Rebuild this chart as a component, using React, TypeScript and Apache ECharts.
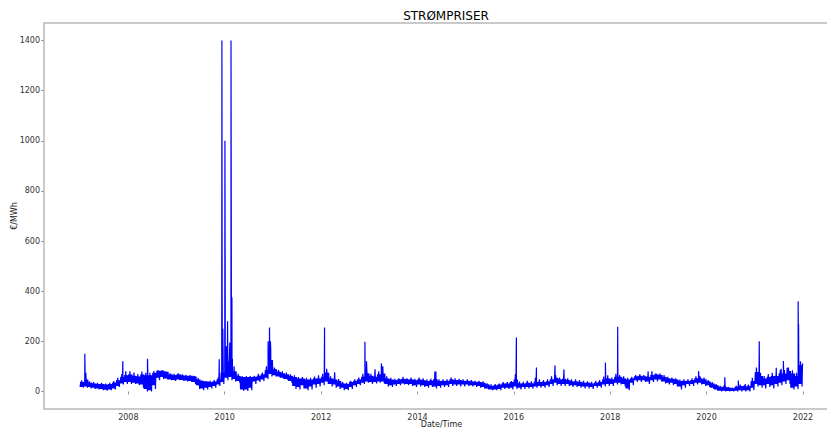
import React, { useEffect, useRef } from "react";
import * as echarts from "echarts";

// Monthly levels of the noisy price band (€/MWh):
// typical low, typical high, deepest dip and highest peak of each month
const YEARS = [2007, 2008, 2009, 2010, 2011, 2012, 2013, 2014, 2015, 2016, 2017, 2018, 2019, 2020, 2021];
const BAND_LO: number[][] = [
  [18, 20, 18, 15, 12, 10, 7, 8, 12, 22, 32, 38],
  [38, 35, 32, 28, 10, 5, 25, 55, 58, 52, 48, 46],
  [48, 46, 44, 42, 38, 25, 12, 15, 18, 22, 28, 38],
  [55, 58, 50, 42, 8, 8, 15, 40, 44, 48, 55, 70],
  [65, 60, 55, 50, 42, 22, 18, 25, 12, 20, 28, 30],
  [35, 40, 30, 28, 20, 15, 10, 18, 25, 30, 35, 40],
  [38, 38, 40, 40, 30, 25, 28, 30, 32, 30, 30, 25],
  [28, 25, 22, 25, 20, 22, 25, 25, 30, 28, 28, 28],
  [28, 25, 25, 22, 18, 12, 8, 8, 10, 15, 15, 15],
  [20, 15, 18, 18, 18, 20, 22, 22, 25, 30, 35, 30],
  [30, 30, 25, 25, 22, 20, 20, 18, 22, 22, 28, 30],
  [30, 35, 35, 30, 12, 35, 45, 45, 45, 40, 45, 48],
  [48, 40, 35, 35, 30, 20, 25, 30, 30, 35, 35, 30],
  [25, 15, 8, 3, 3, 2, 2, 3, 5, 5, 5, 15],
  [30, 25, 25, 30, 25, 30, 35, 40, 45, 15, 20, 30],
];
const BAND_HI: number[][] = [
  [38, 48, 35, 32, 30, 30, 28, 30, 36, 45, 58, 65],
  [68, 62, 60, 68, 65, 65, 75, 82, 82, 78, 68, 65],
  [68, 64, 62, 62, 60, 48, 42, 40, 38, 40, 48, 75],
  [120, 130, 80, 62, 58, 58, 58, 58, 62, 68, 85, 125],
  [88, 78, 72, 68, 62, 58, 52, 52, 48, 48, 52, 52],
  [58, 75, 52, 48, 42, 32, 30, 38, 42, 48, 58, 72],
  [62, 58, 68, 72, 52, 48, 45, 48, 50, 48, 48, 45],
  [48, 45, 42, 44, 50, 42, 42, 42, 48, 45, 45, 42],
  [42, 40, 38, 38, 35, 28, 22, 25, 28, 32, 32, 38],
  [48, 32, 32, 35, 32, 38, 38, 38, 40, 48, 55, 48],
  [50, 45, 40, 40, 38, 35, 35, 32, 35, 38, 48, 52],
  [48, 58, 58, 52, 48, 52, 60, 62, 60, 58, 65, 68],
  [65, 58, 52, 50, 48, 42, 42, 42, 45, 52, 52, 48],
  [40, 32, 25, 18, 18, 15, 12, 18, 22, 20, 22, 42],
  [78, 62, 52, 58, 62, 62, 72, 72, 82, 72, 62, 105],
];
const BAND_DIP: number[][] = [
  [15, 15, 12, 10, 8, 5, 3, 5, 8, 18, 28, 30],
  [30, 30, 25, 15, 0, 0, 10, 45, 50, 48, 45, 42],
  [45, 42, 40, 38, 30, 10, 5, 8, 12, 15, 22, 30],
  [45, 45, 40, 35, 2, 2, 5, 30, 38, 42, 50, 60],
  [60, 55, 50, 45, 35, 10, 8, 12, 5, 8, 15, 20],
  [25, 30, 20, 15, 10, 5, 5, 10, 18, 25, 30, 35],
  [30, 32, 35, 32, 20, 18, 22, 25, 28, 25, 22, 18],
  [20, 18, 15, 18, 12, 15, 18, 18, 22, 22, 20, 20],
  [22, 20, 18, 15, 12, 8, 5, 5, 5, 10, 10, 8],
  [10, 8, 10, 12, 12, 15, 15, 15, 18, 22, 25, 22],
  [22, 22, 18, 18, 15, 12, 12, 10, 15, 15, 20, 22],
  [22, 28, 28, 20, 5, 25, 38, 38, 38, 30, 38, 40],
  [40, 32, 28, 25, 20, 8, 15, 22, 22, 28, 28, 22],
  [18, 10, 3, 0, 0, 0, 0, 0, 0, 0, 0, 5],
  [20, 15, 12, 18, 12, 20, 25, 30, 30, 8, 10, 20],
];
const BAND_PEAK: number[][] = [
  [45, 75, 40, 38, 35, 35, 32, 35, 42, 55, 70, 80],
  [80, 75, 70, 80, 75, 75, 82, 85, 85, 80, 72, 70],
  [72, 68, 66, 65, 62, 55, 45, 42, 42, 45, 55, 130],
  [180, 190, 100, 70, 62, 62, 62, 62, 70, 75, 100, 200],
  [95, 85, 80, 75, 68, 65, 58, 58, 55, 55, 60, 65],
  [70, 90, 60, 77, 50, 38, 35, 42, 48, 55, 70, 120],
  [70, 88, 80, 100, 60, 55, 50, 52, 58, 52, 55, 50],
  [55, 52, 48, 50, 80, 48, 48, 48, 55, 52, 50, 48],
  [48, 45, 42, 42, 40, 32, 28, 30, 32, 38, 38, 42],
  [70, 40, 38, 42, 40, 55, 48, 45, 48, 60, 65, 55],
  [60, 52, 48, 48, 45, 42, 40, 38, 42, 45, 60, 65],
  [55, 70, 65, 60, 55, 58, 65, 68, 65, 62, 80, 72],
  [72, 65, 58, 55, 52, 48, 48, 48, 52, 60, 60, 55],
  [45, 38, 30, 22, 25, 18, 15, 22, 28, 25, 28, 55],
  [95, 75, 62, 70, 75, 75, 85, 85, 95, 85, 75, 120],
];

// Isolated price spikes [date, €/MWh]
const SPIKE_DATES = [
  "2007-02-05", "2007-11-20", "2008-05-25", "2009-11-20", "2009-12-10", "2009-12-17",
  "2010-01-02", "2010-01-04", "2010-01-22", "2010-02-08", "2010-02-17", "2010-02-24",
  "2010-11-25", "2010-12-06", "2010-12-15", "2012-01-27", "2012-04-15", "2012-11-28",
  "2012-12-10", "2013-02-15", "2013-04-02", "2014-05-20", "2016-01-20", "2016-06-20",
  "2016-11-08", "2017-01-15", "2017-11-25", "2018-02-26", "2018-10-15", "2019-11-01",
  "2020-05-18", "2020-08-28", "2020-10-20", "2021-02-03", "2021-06-12", "2021-07-18",
  "2021-08-05", "2021-09-02", "2021-11-25", "2021-11-28", "2021-12-29",
];
const SPIKE_VALUES = [
  150, 120, 130, 128, 1400, 250,
  1000, 400, 280, 195, 1400, 375,
  200, 255, 170, 255, 77, 198,
  120, 88, 112, 80, 215, 96,
  104, 88, 115, 258, 80, 81,
  57, 44, 30, 200, 95, 90,
  121, 95, 360, 270, 112,
];

const X_TICK_YEARS = [2008, 2010, 2012, 2014, 2016, 2018, 2020, 2022];
const Y_TICKS = [0, 200, 400, 600, 800, 1000, 1200, 1400];

const FONT = "DejaVu Sans";

export default function App() {
  const ref = useRef<HTMLDivElement>(null);

  useEffect(() => {
    if (!ref.current) return;
    const chart = echarts.init(ref.current, undefined, { renderer: "svg" });

    // within each month: low, high, low, peak, low, high, dip, high
    const order: [number, number[][]][] = [
      [1, BAND_LO], [5, BAND_HI], [9, BAND_LO], [13, BAND_PEAK],
      [17, BAND_LO], [21, BAND_HI], [25, BAND_DIP], [28, BAND_HI],
    ];
    const pts: [number, number][] = [];
    YEARS.forEach((y, yi) => {
      for (let m = 0; m < 12; m++) {
        order.forEach(([day, arr]) => {
          pts.push([Date.UTC(y, m, day), arr[yi][m]]);
        });
      }
    });
    SPIKE_DATES.forEach((d, i) => {
      pts.push([Date.parse(d + "T12:00:00Z"), SPIKE_VALUES[i]]);
    });
    pts.sort((a, b) => a[0] - b[0]);

    const xTicks = X_TICK_YEARS.map((y) => Date.UTC(y, 0, 1));

    chart.setOption({
      animation: false,
      title: {
        text: "STRØMPRISER",
        left: 441,
        top: 5,
        textAlign: "center",
        textStyle: { fontFamily: FONT, fontSize: 12, fontWeight: "normal", color: "#000" },
      },
      grid: {
        left: 44,
        top: 23,
        width: 795,
        height: 386,
        show: true,
        borderColor: "#b8b8b8",
        borderWidth: 1.5,
        containLabel: false,
        outerBoundsMode: "none",
      },
      xAxis: {
        type: "value",
        min: Date.UTC(2006, 3, 2),
        max: Date.UTC(2022, 9, 1),
        name: "Date/Time",
        nameLocation: "middle",
        nameGap: 11,
        nameMoveOverlap: false,
        nameTextStyle: { fontFamily: FONT, fontSize: 8, color: "#222", verticalAlign: "top" },
        axisLine: { show: false },
        axisTick: { show: true, customValues: xTicks, length: 3, lineStyle: { color: "#999" } },
        axisLabel: {
          customValues: xTicks,
          formatter: (v: number) => String(new Date(v + 3 * 86400000).getUTCFullYear()),
          fontFamily: FONT,
          fontSize: 8,
          color: "#333",
          margin: 4,
        },
        splitLine: { show: false },
      },
      yAxis: {
        type: "value",
        min: -70,
        max: 1470,
        name: "€/MWh",
        nameLocation: "middle",
        nameRotate: 90,
        nameGap: 26,
        nameMoveOverlap: false,
        nameTextStyle: { fontFamily: FONT, fontSize: 8, color: "#222" },
        axisLine: { show: false },
        axisTick: { show: true, customValues: Y_TICKS, length: 3, lineStyle: { color: "#999" } },
        axisLabel: {
          customValues: Y_TICKS,
          formatter: (v: number) => String(v),
          fontFamily: FONT,
          fontSize: 8,
          color: "#333",
          margin: 4,
        },
        splitLine: { show: false },
      },
      series: [
        {
          type: "line",
          data: pts,
          showSymbol: false,
          silent: true,
          lineStyle: { color: "#0000ff", width: 1.2 },
        },
      ],
    });

    return () => chart.dispose();
  }, []);

  return (
    <div
      ref={ref}
      style={{ position: "fixed", left: 0, top: 0, width: 827, height: 428, background: "#fff" }}
    />
  );
}
